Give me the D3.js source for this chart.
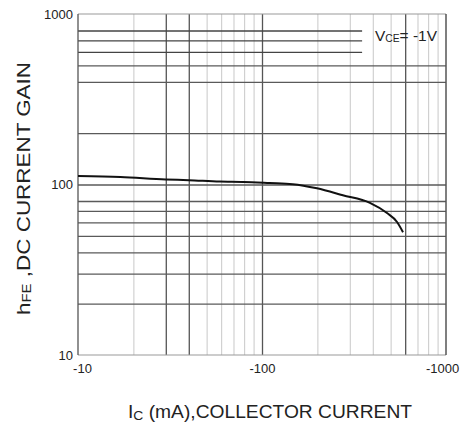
<!DOCTYPE html>
<html>
<head>
<meta charset="utf-8">
<script src="https://cdn.jsdelivr.net/npm/d3@7"></script>
<style>
  body { margin: 0; background: #fff; }
  svg { display: block; font-family: "Liberation Sans", Arial, sans-serif; }
  .grid .domain { display: none; }
  .grid text { display: none; }
</style>
</head>
<body>
<svg width="467" height="431"></svg>
<script>
// data (Ic in mA, magnitude)
var icValues  = [10, 17, 30, 40, 59, 79, 110, 147, 199, 275, 386, 478, 542, 584];
var hfeValues = [112, 110.5, 107, 106, 104, 103.5, 102, 100.5, 95, 86.5, 78, 68, 60.3, 52.5];

var xTickValues = [10, 100, 1000];
var xTickLabels = ['-10', '-100', '-1000'];
var yTickValues = [10, 100, 1000];
var yTickLabels = ['10', '100', '1000'];

// grid lines as they appear on the scan
var vGridDark  = [30, 40, 100, 600];
var vGridLight = [20, 50, 60, 70, 80, 90, 200, 300, 400, 500, 700, 800, 900];
var hGridFull  = [20, 30, 40, 50, 60, 70, 80, 100, 200, 400, 500];
var hGridShort = [600, 700, 800];   // stop before the VCE label
var shortGridEnd = 350;

var svg = d3.select('svg');
var padding = {t: 14, r: 21, b: 76, l: 78};
var chartWidth = +svg.attr('width') - padding.l - padding.r;
var chartHeight = +svg.attr('height') - padding.t - padding.b;

var xScale = d3.scaleLog().domain([10, 1000]).range([0, chartWidth]);
var yScale = d3.scaleLog().domain([10, 1000]).range([chartHeight, 0]);

var chartG = svg.append('g')
    .attr('transform', 'translate(' + [padding.l, padding.t] + ')');

// light vertical grid
chartG.append('g')
    .attr('class', 'grid')
    .call(d3.axisTop(xScale).tickValues(vGridLight).tickSize(-chartHeight).tickFormat(''))
    .selectAll('line')
    .attr('stroke', '#c8c8c8')
    .attr('stroke-width', 1);

// dark vertical grid
chartG.append('g')
    .attr('class', 'grid')
    .call(d3.axisTop(xScale).tickValues(vGridDark).tickSize(-chartHeight).tickFormat(''))
    .selectAll('line')
    .attr('stroke', '#555')
    .attr('stroke-width', 1.3);

// horizontal grid
chartG.append('g')
    .attr('class', 'grid')
    .call(d3.axisLeft(yScale).tickValues(hGridFull).tickSize(-chartWidth).tickFormat(''))
    .selectAll('line')
    .attr('stroke', '#5a5a5a')
    .attr('stroke-width', 1.3);

chartG.append('g')
    .attr('class', 'grid')
    .call(d3.axisLeft(yScale).tickValues(hGridShort).tickSize(-xScale(shortGridEnd)).tickFormat(''))
    .selectAll('line')
    .attr('stroke', '#444')
    .attr('stroke-width', 1.4);

// frame
chartG.append('line').attr('x1', 0).attr('x2', chartWidth).attr('y1', 0).attr('y2', 0)
    .attr('stroke', '#999').attr('stroke-width', 1.2);
chartG.append('line').attr('x1', 0).attr('x2', chartWidth).attr('y1', chartHeight).attr('y2', chartHeight)
    .attr('stroke', '#999').attr('stroke-width', 1.2);
chartG.append('line').attr('x1', 0).attr('x2', 0).attr('y1', 0).attr('y2', chartHeight)
    .attr('stroke', '#555').attr('stroke-width', 1.3);
chartG.append('line').attr('x1', chartWidth).attr('x2', chartWidth).attr('y1', 0).attr('y2', chartHeight)
    .attr('stroke', '#555').attr('stroke-width', 1.5);

// axes (labels only)
var xAx = chartG.append('g')
    .attr('transform', 'translate(0,' + chartHeight + ')')
    .call(d3.axisBottom(xScale).tickValues(xTickValues).tickSize(0)
        .tickFormat(function(d, i) { return xTickLabels[i]; }));
xAx.select('.domain').remove();
xAx.selectAll('text')
    .attr('dy', 0).attr('y', 18)
    .attr('dx', function(d, i) { return i == 0 ? 4 : (i == 2 ? -4 : 0); })
    .style('font-size', '13px').style('font-family', '"Liberation Sans", Arial, sans-serif')
    .attr('fill', '#222');

var yAx = chartG.append('g')
    .call(d3.axisLeft(yScale).tickValues(yTickValues).tickSize(0)
        .tickFormat(function(d, i) { return yTickLabels[i]; }));
yAx.select('.domain').remove();
yAx.selectAll('text')
    .attr('x', -5)
    .style('font-size', '13px').style('font-family', '"Liberation Sans", Arial, sans-serif')
    .attr('fill', '#222');

// curve
var line = d3.line()
    .x(function(d, i) { return xScale(icValues[i]); })
    .y(function(d, i) { return yScale(hfeValues[i]); })
    .curve(d3.curveMonotoneX);

chartG.append('path')
    .datum(icValues)
    .attr('d', line)
    .attr('fill', 'none')
    .attr('stroke', '#111')
    .attr('stroke-width', 2);

// VCE label
var leg = chartG.append('text')
    .attr('x', 375 - padding.l)
    .attr('y', 27)
    .attr('fill', '#222')
    .attr('textLength', 62)
    .attr('lengthAdjust', 'spacingAndGlyphs')
    .style('font-size', '15px');
leg.append('tspan').text('V');
leg.append('tspan').attr('dy', 1).style('font-size', '10px').text('CE');
leg.append('tspan').attr('dy', -1).text('= -1V');

// axis titles
var xt = svg.append('text')
    .attr('x', 128)
    .attr('y', 418)
    .attr('fill', '#222')
    .attr('textLength', 284)
    .attr('lengthAdjust', 'spacingAndGlyphs')
    .style('font-size', '18px');
xt.append('tspan').text('I');
xt.append('tspan').attr('dy', 2).style('font-size', '13px').text('C');
xt.append('tspan').attr('dy', -2).text(' (mA),COLLECTOR CURRENT');

var yt = svg.append('text')
    .attr('transform', 'translate(30,315) rotate(-90)')
    .attr('fill', '#222')
    .attr('textLength', 253)
    .attr('lengthAdjust', 'spacingAndGlyphs')
    .style('font-size', '18px');
yt.append('tspan').text('h');
yt.append('tspan').attr('dy', 1).style('font-size', '12px').text('FE');
yt.append('tspan').attr('dy', -1).text(' ,DC CURRENT GAIN');
</script>
</body>
</html>
